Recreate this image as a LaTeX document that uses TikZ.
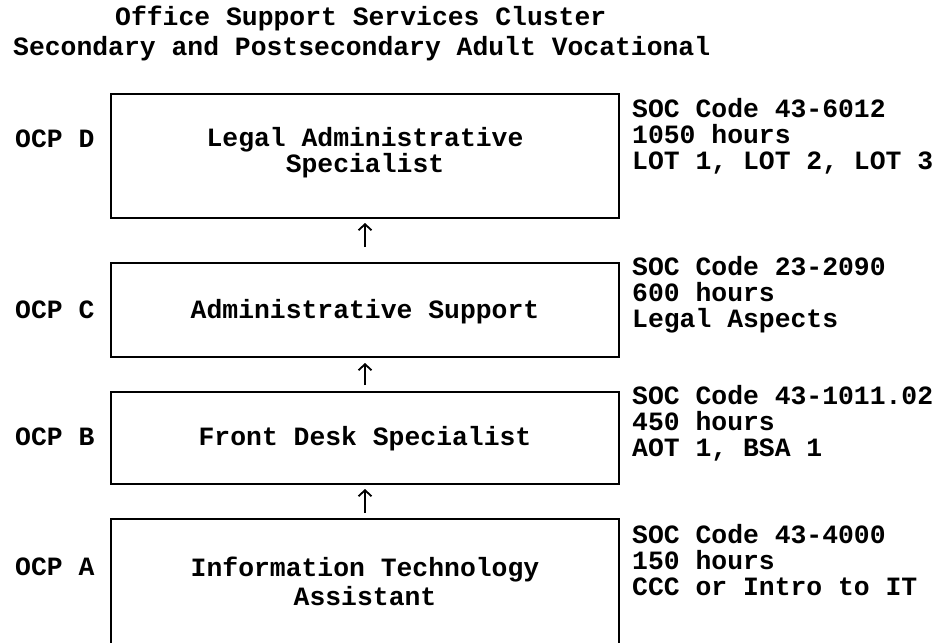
\documentclass[tikz,border=0pt]{standalone}
\usepackage{fontspec}
\newfontfamily\courbold{Liberation Mono}[BoldFont={Liberation Mono Bold}]
\usetikzlibrary{arrows.meta}
\tikzset{
  txt/.style={inner sep=0pt, anchor=base west, font=\courbold\bfseries\fontsize{26.4}{26.4}\selectfont},
  ctxt/.style={txt, anchor=base},
  stagebox/.style={draw=black, line width=2pt, inner sep=0pt, minimum width=508pt},
  uparrow/.style={line width=1.8pt, -{Straight Barb[length=6pt, width=13pt, line width=1.8pt]}}
}
\begin{document}
\begin{tikzpicture}[x=1pt, y=-1pt]
\useasboundingbox (0,0) rectangle (944,642);
\clip (0,0) rectangle (944,642);

% heading
\node[txt] (t1) at (115,26) {Office Support Services Cluster};
\node[txt] (t2) at (13,56) {Secondary and Postsecondary Adult Vocational};

% stage boxes (the lowest one runs off the bottom edge)
\node[stagebox, minimum height=124pt] (D) at (365,156) {};
\node[stagebox, minimum height=94pt]  (C) at (365,310) {};
\node[stagebox, minimum height=92pt]  (B) at (365,438) {};
\node[stagebox, minimum height=140pt] (A) at (365,589) {};

% box titles
\node[ctxt] (dn1) at (365,146) {Legal Administrative};
\node[ctxt] (dn2) at (365,172) {Specialist};
\node[ctxt] (cn)  at (365,318) {Administrative Support};
\node[ctxt] (bn)  at (365,445) {Front Desk Specialist};
\node[ctxt] (an1) at (365,576) {Information Technology};
\node[ctxt] (an2) at (365,605) {Assistant};

% program labels
\node[txt] (ocpd) at (15,147) {OCP D};
\node[txt] (ocpc) at (15,318) {OCP C};
\node[txt] (ocpb) at (15,445) {OCP B};
\node[txt] (ocpa) at (15,575) {OCP A};

% codes, hours and courses
\node[txt] (d1) at (632,117) {SOC Code 43-6012};
\node[txt] (d2) at (632,143) {1050 hours};
\node[txt] (d3) at (632,169) {LOT 1, LOT 2, LOT 3};
\node[txt] (c1) at (632,275) {SOC Code 23-2090};
\node[txt] (c2) at (632,301) {600 hours};
\node[txt] (c3) at (632,327) {Legal Aspects};
\node[txt] (b1) at (632,404) {SOC Code 43-1011.02};
\node[txt] (b2) at (632,430) {450 hours};
\node[txt] (b3) at (632,456) {AOT 1, BSA 1};
\node[txt] (a1) at (632,543) {SOC Code 43-4000};
\node[txt] (a2) at (632,569) {150 hours};
\node[txt] (a3) at (632,595) {CCC or Intro to IT};

% progression arrows
\draw[uparrow, shorten <=15pt, shorten >=4pt] (C.north) -- (D.south);
\draw[uparrow, shorten <=6pt, shorten >=5pt] (B.north) -- (C.south);
\draw[uparrow, shorten <=5pt, shorten >=4pt] (A.north) -- (B.south);
\end{tikzpicture}
\end{document}
